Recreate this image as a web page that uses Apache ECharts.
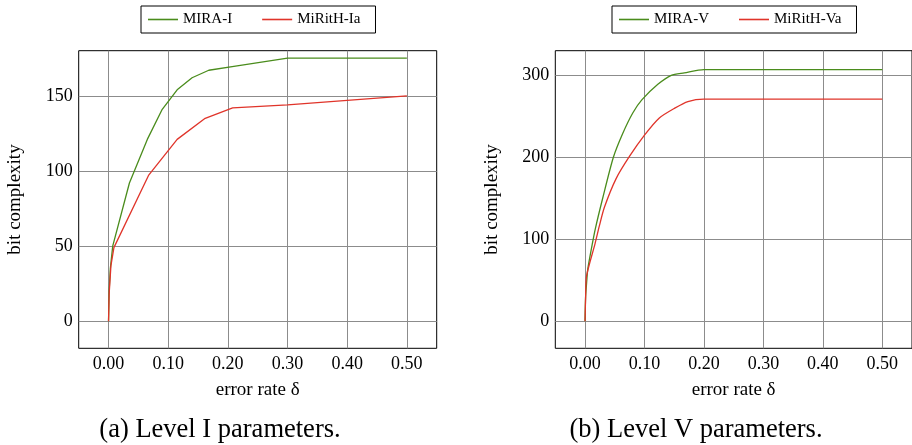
<!DOCTYPE html>
<html>
<head>
<meta charset="utf-8">
<script src="https://cdn.jsdelivr.net/npm/echarts@6/dist/echarts.min.js"></script>
<style>
  html, body { margin: 0; padding: 0; background: #fff; }
  #chart { width: 912px; height: 445px; }
</style>
</head>
<body>
<div id="chart"></div>
<script>
// error rate delta vs bit complexity, level I
var miraI_x = [0, 0.001, 0.003, 0.007, 0.035, 0.065, 0.09, 0.115, 0.14, 0.168, 0.21, 0.30, 0.50];
var miraI_y = [0, 20, 35, 50, 92, 121, 141, 154, 162, 167, 169.5, 175, 175];
var miritI_x = [0, 0.001, 0.004, 0.009, 0.067, 0.115, 0.162, 0.208, 0.30, 0.50];
var miritI_y = [0, 18, 37, 49, 97, 121, 135, 142, 144, 150];

// level V
var miraV_x = [0, 0.001, 0.003, 0.0045, 0.0106, 0.0174, 0.0297, 0.0477, 0.0634, 0.0803, 0.0955, 0.1225, 0.145, 0.167, 0.2, 0.5];
var miraV_y = [0, 30, 50, 63, 88, 113, 150, 200, 229, 254, 270, 289, 300, 303, 307, 307];
var miritV_x = [0, 0.001, 0.0025, 0.017, 0.024, 0.0326, 0.0523, 0.0747, 0.1, 0.125, 0.151, 0.173, 0.2, 0.5];
var miritV_y = [0, 30, 55, 95, 116, 139, 174, 201, 227, 248, 260, 268, 271, 271];

var names = ['MIRA-I', 'MiRitH-Ia', 'MIRA-V', 'MiRitH-Va'];
var captions = ['(a) Level I parameters.', '(b) Level V parameters.'];

var FONT = 'Liberation Serif';
var GREEN = '#4a8c1c';
var RED = '#e0342a';

function pairs(xs, ys) {
    var out = [];
    for (var i = 0; i < xs.length; i++) {
        out.push([xs[i], ys[i]]);
    }
    return out;
}

function makeX(idx) {
    return {
        type: 'value',
        gridIndex: idx,
        min: -0.05,
        max: 0.55,
        splitNumber: 6,
        name: 'error rate δ',
        nameLocation: 'middle',
        nameGap: 32,
        nameTextStyle: { fontFamily: FONT, fontSize: 19, color: '#000' },
        axisLine: { show: false },
        axisTick: { show: false },
        axisLabel: {
            fontFamily: FONT, fontSize: 18, color: '#000', margin: 7,
            showMinLabel: false, showMaxLabel: false,
            formatter: function (v) { return v.toFixed(2); }
        },
        splitLine: { show: true, showMinLine: false, showMaxLine: false,
                     lineStyle: { color: '#8c8c8c', width: 1 } }
    };
}

function makeY(idx, min, max) {
    return {
        type: 'value',
        gridIndex: idx,
        min: min,
        max: max,
        splitNumber: 4,
        name: 'bit complexity',
        nameLocation: 'middle',
        nameGap: 54,
        nameTextStyle: { fontFamily: FONT, fontSize: 19, color: '#000' },
        axisLine: { show: false },
        axisTick: { show: false },
        axisLabel: {
            fontFamily: FONT, fontSize: 18, color: '#000', margin: 6,
            showMinLabel: false, showMaxLabel: false
        },
        splitLine: { show: true, showMinLine: false, showMaxLine: false,
                     lineStyle: { color: '#8c8c8c', width: 1 } }
    };
}

function makeLine(name, idx, xs, ys, color, smooth) {
    return {
        name: name,
        type: 'line',
        xAxisIndex: idx,
        yAxisIndex: idx,
        symbol: 'none',
        smooth: smooth,
        lineStyle: { color: color, width: 1.3 },
        itemStyle: { color: color },
        data: pairs(xs, ys)
    };
}

function makeLegend(data, left) {
    return {
        data: data,
        left: left,
        top: 6,
        orient: 'horizontal',
        icon: 'rect',
        itemWidth: 30,
        itemHeight: 1.6,
        itemGap: 30,
        padding: [6, 15, 6, 7],
        borderColor: '#000',
        borderWidth: 1,
        textStyle: { fontFamily: FONT, fontSize: 15, color: '#000', lineHeight: 14 }
    };
}

var chart = echarts.init(document.getElementById('chart'));
var option = {
    animation: false,
    backgroundColor: '#fff',
    title: [
        { text: captions[0], left: 220, top: 417, textAlign: 'center', padding: 0,
          textStyle: { fontFamily: FONT, fontSize: 26.5, fontWeight: 'normal', color: '#000' } },
        { text: captions[1], left: 696, top: 417, textAlign: 'center', padding: 0,
          textStyle: { fontFamily: FONT, fontSize: 26.5, fontWeight: 'normal', color: '#000' } }
    ],
    legend: [
        makeLegend([names[0], names[1]], 141),
        makeLegend([names[2], names[3]], 612)
    ],
    grid: [
        { left: 78.7, top: 50.7, width: 358, height: 297.6, show: true, borderColor: '#000', borderWidth: 1 },
        { left: 555.3, top: 50.7, width: 358, height: 297.6, show: true, borderColor: '#000', borderWidth: 1 }
    ],
    xAxis: [makeX(0), makeX(1)],
    yAxis: [makeY(0, -18, 180), makeY(1, -33, 330)],
    series: [
        makeLine(names[0], 0, miraI_x, miraI_y, GREEN, false),
        makeLine(names[1], 0, miritI_x, miritI_y, RED, false),
        makeLine(names[2], 1, miraV_x, miraV_y, GREEN, 0.25),
        makeLine(names[3], 1, miritV_x, miritV_y, RED, 0.25)
    ]
};
chart.setOption(option);
</script>
</body>
</html>
